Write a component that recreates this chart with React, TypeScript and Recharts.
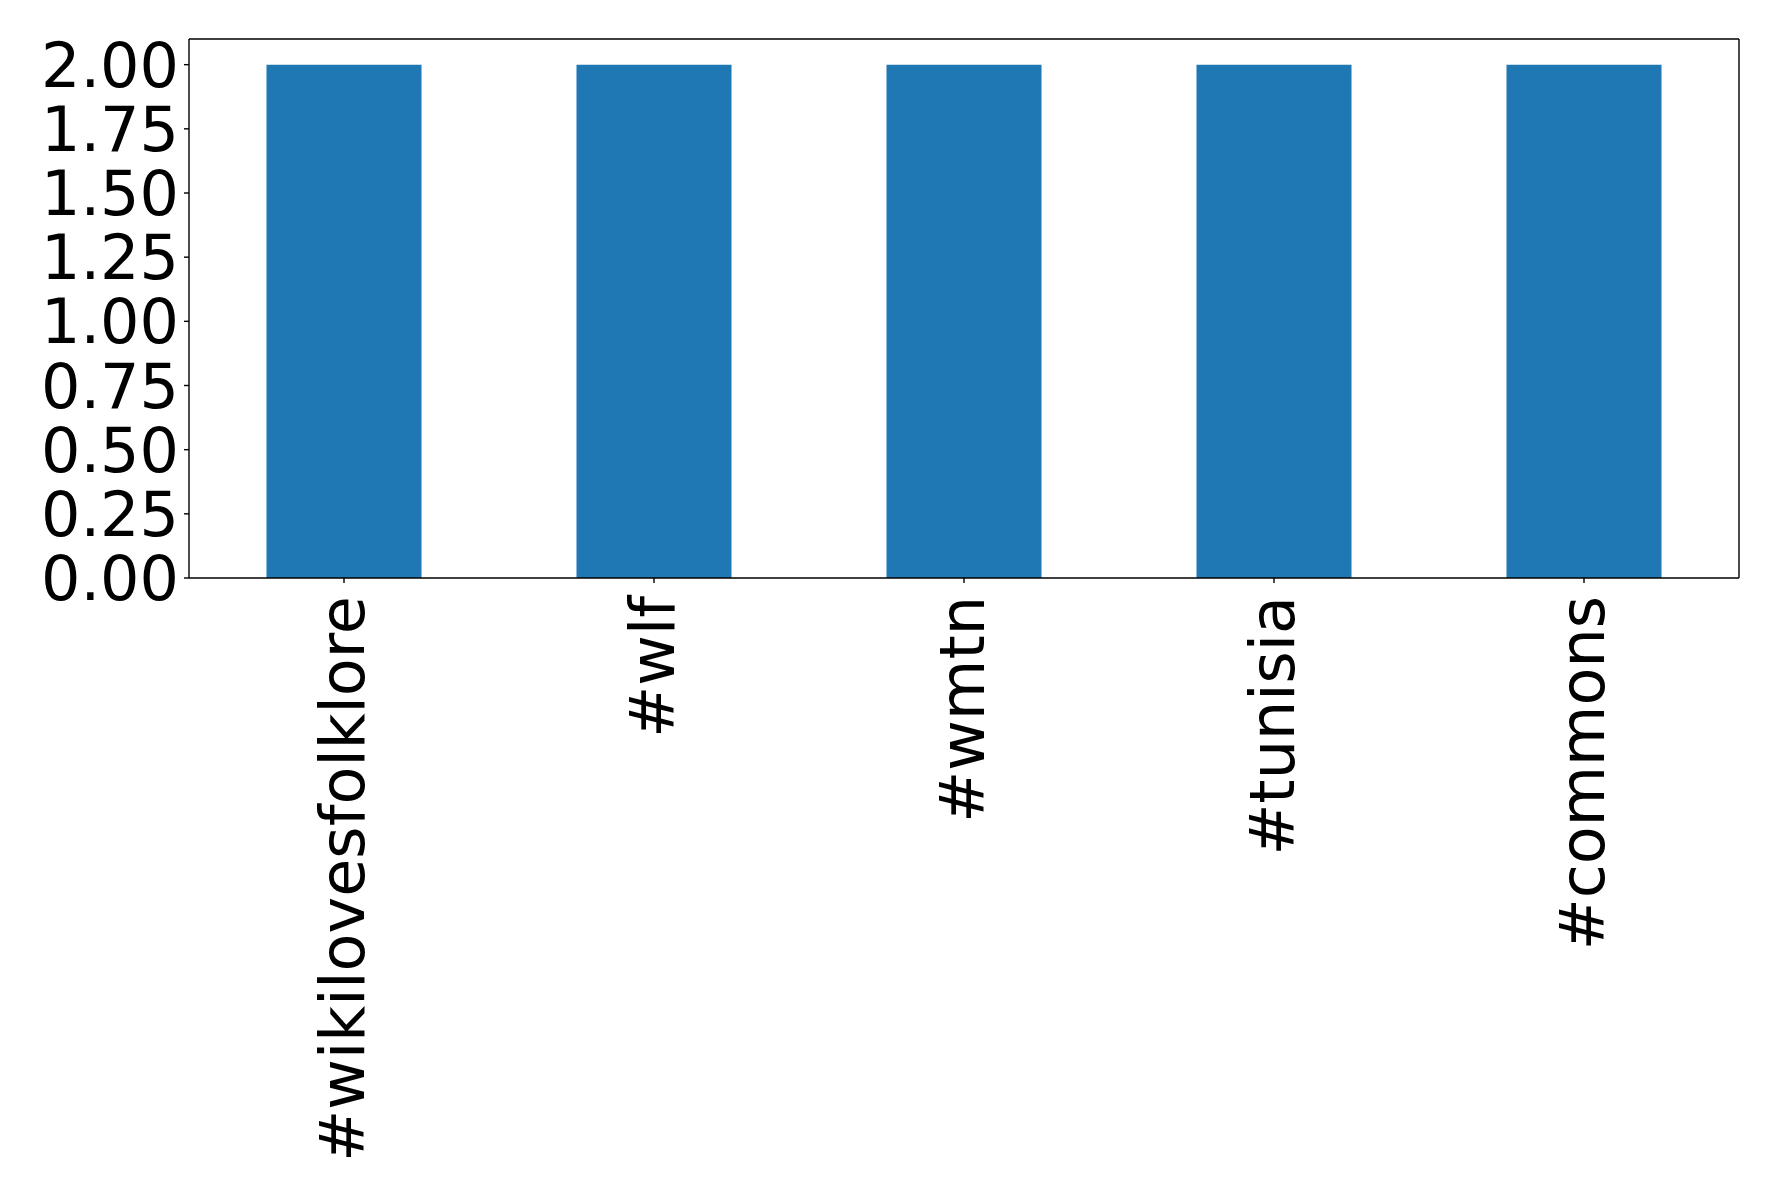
import React from 'react';
import { BarChart, Bar, XAxis, YAxis } from 'recharts';

const hashtags = ['#wikilovesfolklore', '#wlf', '#wmtn', '#tunisia', '#commons'];
const counts = [2, 2, 2, 2, 2];
const yTicks = [0, 0.25, 0.5, 0.75, 1, 1.25, 1.5, 1.75, 2];

const data = hashtags.map((tag, i) => ({ tag, count: counts[i] }));

const FONT = '"DejaVu Sans", sans-serif';
const FS = 62;

function RotatedTick(props: any) {
  const { x, y, payload } = props;
  const ty = y + 13;
  return (
    <text
      x={x}
      y={ty}
      dy={20}
      transform={`rotate(-90, ${x}, ${ty})`}
      textAnchor="end"
      fontSize={FS}
      fontFamily={FONT}
      fill="#000"
    >
      {payload.value}
    </text>
  );
}

export default function App() {
  return (
    <div style={{ position: 'absolute', left: 0, top: 0, width: 1778, height: 1198, background: '#fff' }}>
      <BarChart
        width={1778}
        height={1198}
        data={data}
        margin={{ top: 38, right: 38, bottom: 0, left: 0 }}
        barCategoryGap="25%"
      >
        <XAxis
          dataKey="tag"
          xAxisId="bottom"
          height={620}
          interval={0}
          tick={<RotatedTick />}
          tickSize={5}
          tickMargin={0}
          stroke="#000"
          axisLine={{ stroke: '#000', strokeWidth: 1.4 }}
          tickLine={{ stroke: '#000', strokeWidth: 1.4 }}
        />
        <XAxis
          dataKey="tag"
          xAxisId="top"
          orientation="top"
          height={1}
          tick={false}
          tickLine={false}
          stroke="#000"
          axisLine={{ stroke: '#000', strokeWidth: 1.4 }}
        />
        <YAxis
          yAxisId="left"
          width={189}
          domain={[0, 2.1]}
          ticks={yTicks}
          interval={0}
          tickFormatter={(v: number) => v.toFixed(2)}
          tick={{ fontSize: FS, fontFamily: FONT, fill: '#000' }}
          tickSize={5}
          tickMargin={5}
          stroke="#000"
          axisLine={{ stroke: '#000', strokeWidth: 1.4 }}
          tickLine={{ stroke: '#000', strokeWidth: 1.4 }}
        />
        <YAxis
          yAxisId="right"
          orientation="right"
          width={1}
          domain={[0, 2.1]}
          tick={false}
          tickLine={false}
          stroke="#000"
          axisLine={{ stroke: '#000', strokeWidth: 1.4 }}
        />
        <Bar
          dataKey="count"
          xAxisId="bottom"
          yAxisId="left"
          fill="#1f77b4"
          isAnimationActive={false}
        />
      </BarChart>
    </div>
  );
}
